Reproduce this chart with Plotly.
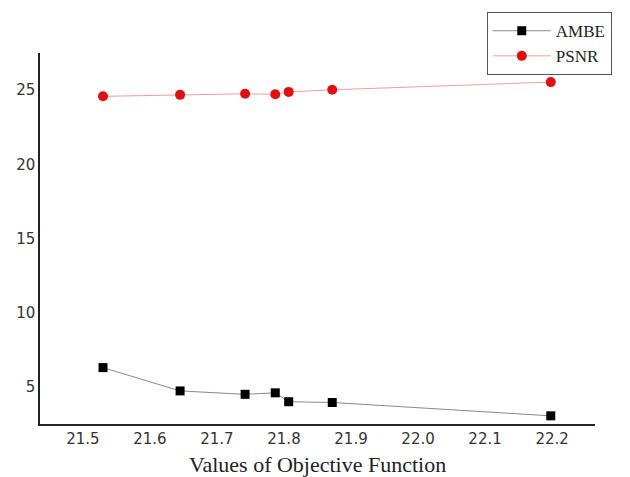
import plotly.graph_objects as go

objective = [21.53, 21.645, 21.742, 21.787, 21.807, 21.872, 22.198]
ambe = [6.3, 4.73, 4.5, 4.6, 4.0, 3.95, 3.05]
psnr = [24.58, 24.68, 24.75, 24.72, 24.88, 25.02, 25.54]

fig = go.Figure()
fig.add_trace(go.Scatter(x=objective, y=ambe, name="AMBE", mode="lines+markers",
                         line=dict(color="#8a8a8a", width=1),
                         marker=dict(symbol="square", size=9, color="black")))
fig.add_trace(go.Scatter(x=objective, y=psnr, name="PSNR", mode="lines+markers",
                         line=dict(color="#e8a0a0", width=1),
                         marker=dict(symbol="circle", size=10, color="#e01010")))

fig.update_layout(
    width=630, height=477,
    margin=dict(l=40, r=35, t=50, b=53),
    paper_bgcolor="white", plot_bgcolor="white",
    font=dict(family="DejaVu Sans", size=15, color="#333"),
    showlegend=True,
    legend=dict(x=0.805, y=1.11, xanchor="left", yanchor="top",
                bordercolor="#555", borderwidth=1,
                font=dict(family="Liberation Serif, Times New Roman", size=17, color="#222"),
                tracegroupgap=0, itemwidth=58),
    xaxis=dict(range=[21.436, 22.264], tickvals=[21.5, 21.6, 21.7, 21.8, 21.9, 22.0, 22.1, 22.2],
               tickformat=".1f", showgrid=False, zeroline=False, automargin=False,
               showline=True, linecolor="#222", linewidth=1.5, ticks=""),
    yaxis=dict(range=[2.5, 27.5], tickvals=[5, 10, 15, 20, 25], showgrid=False, zeroline=False,
               automargin=False,
               showline=True, linecolor="#222", linewidth=1.5, ticks=""),
    annotations=[dict(text="Values of Objective Function", x=0.5, y=-0.11, xref="paper", yref="paper",
                      xanchor="center", yanchor="middle", showarrow=False,
                      font=dict(family="Liberation Serif, Times New Roman", size=22, color="#222"))],
)

fig.write_html("out.html")
